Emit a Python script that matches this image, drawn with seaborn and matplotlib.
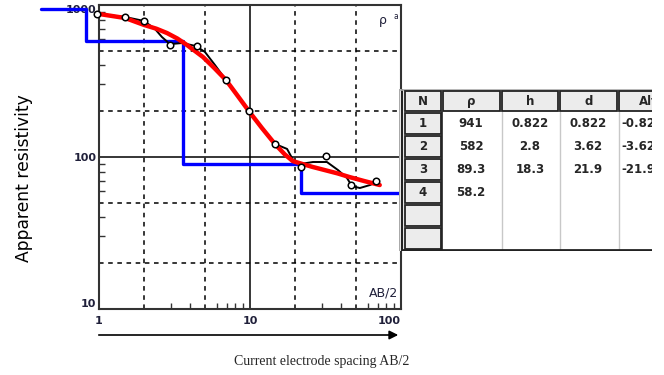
import numpy as np
import pandas as pd
import seaborn as sns
import matplotlib.pyplot as plt
from matplotlib.patches import Rectangle

# measured apparent resistivity points (open circles)
ab2_obs = [0.97, 1.49, 1.99, 2.95, 4.43, 6.90, 9.89, 14.7, 21.8, 31.9, 46.4, 68.3]
rho_obs = [873, 837, 788, 546, 540, 321, 201, 122, 85.9, 102, 65.2, 69.5]

# field curve (black)
ab2_field = [0.97, 1.49, 1.99, 2.35, 2.61, 2.95, 3.55, 4.39, 5.03, 5.86, 6.93, 9.85,
             14.6, 17.6, 19.3, 21.4, 26.1, 32.3, 38.3, 43.9, 47.3, 53.4, 62.3, 69.3]
rho_field = [873, 834, 785, 695, 616, 553, 562, 537, 491, 403, 321, 201,
             122, 113, 95.5, 89.9, 92.7, 92.7, 82.0, 72.7, 64.4, 62.5, 65.4, 68.6]

# calculated curve (red)
ab2_calc = [1.0, 1.49, 1.99, 2.4, 2.82, 3.3, 3.83, 4.88, 5.8, 6.93, 8.3, 9.92, 12.0,
            14.6, 17.0, 19.2, 22.2, 26.0, 31.3, 38.0, 45.6, 57.0, 72.3]
rho_calc = [873, 821, 739, 698, 654, 602, 545, 455, 385, 321, 252, 198, 155,
            122, 104, 94.0, 90.0, 86.0, 82.0, 78.0, 73.8, 69.5, 65.4]

# layered model (blue) and table
layer_n = [1, 2, 3, 4]
layer_rho = [941, 582, 89.3, 58.2]
layer_h = [0.822, 2.8, 18.3]
layer_d = [0.822, 3.62, 21.9]
layer_alt = [-0.822, -3.62, -21.9]

sns.set_theme(style="white")
plt.rcParams["font.family"] = ["DejaVu Sans"]

fig = plt.figure(figsize=(6.64, 3.75), dpi=100)
fig.patch.set_facecolor("white")
ax = fig.add_axes([99 / 664, 1 - 309 / 375, 302 / 664, 304 / 375])
ax.set_xscale("log")
ax.set_yscale("log")
ax.set_xlim(1, 100)
ax.set_ylim(10, 1000)

# grid
for v in [2, 5, 20, 50]:
    ax.axvline(v, color="black", lw=1.1, ls=(0, (3, 3)), zorder=1)
for v in [20, 50, 200, 500]:
    ax.axhline(v, color="black", lw=1.1, ls=(0, (3, 3)), zorder=1)
ax.axvline(10, color="black", lw=1.1, zorder=1)
ax.axhline(100, color="black", lw=1.1, zorder=1)

# model step line, runs outside the frame
step_x = [0.41] + layer_d + [105]
step_y = layer_rho + [layer_rho[-1]]
ax.step(step_x, step_y, where="post", color="#0000ff", lw=2.4, zorder=3, clip_on=False)

field_df = pd.DataFrame({"ab2": ab2_field, "rho": rho_field})
sns.lineplot(data=field_df, x="ab2", y="rho", sort=False, estimator=None,
             color="black", lw=1.4, ax=ax, zorder=4, clip_on=False)
calc_df = pd.DataFrame({"ab2": ab2_calc, "rho": rho_calc})
sns.lineplot(data=calc_df, x="ab2", y="rho", sort=False, estimator=None,
             color="#ff0000", lw=3.2, ax=ax, zorder=5, solid_joinstyle="round")
obs_df = pd.DataFrame({"ab2": ab2_obs, "rho": rho_obs})
sns.scatterplot(data=obs_df, x="ab2", y="rho", marker="o", s=22, facecolor="white",
                edgecolor="black", linewidth=1.1, ax=ax, zorder=6, clip_on=False)

ax.set_xlabel("")
ax.set_ylabel("")
for s in ax.spines.values():
    s.set_color("#333333")
    s.set_linewidth(1.5)

lab_col = "#20203a"
ax.set_xticks([1, 10, 100])
ax.set_xticklabels(["1", "10", "100"])
ax.set_yticks([10, 100, 1000])
ax.set_yticklabels(["10", "100", "1000"])
minor = [3, 4, 6, 7, 8, 9]
ax.set_xticks([m * 10 ** k for k in [0, 1] for m in minor], minor=True)
ax.set_yticks([m * 10 ** k for k in [1, 2] for m in minor], minor=True)
ax.set_xticklabels([], minor=True)
ax.set_yticklabels([], minor=True)
ax.tick_params(which="major", length=0, labelsize=8, labelcolor=lab_col)
ax.tick_params(axis="x", which="major", pad=5)
ax.tick_params(axis="y", which="major", pad=2)
ax.tick_params(which="minor", direction="in", length=4, width=1, color="#333333",
               left=True, bottom=True)
xl = ax.get_xticklabels()
xl[2].set_ha("right")
yl = ax.get_yticklabels()
yl[0].set_va("bottom")
yl[2].set_va("top")
for t in xl + yl:
    t.set_fontweight("semibold")

ax.text(0.94, 0.95, "ρ", transform=ax.transAxes, ha="center", va="center",
        fontsize=9, color=lab_col)
ax.text(0.983, 0.962, "a", transform=ax.transAxes, ha="center", va="center",
        fontsize=5.5, color=lab_col)
ax.text(0.99, 0.053, "AB/2", transform=ax.transAxes, ha="right", va="center",
        fontsize=9, color=lab_col)

fig.text(24 / 664, 1 - 178 / 375, "Apparent resistivity", rotation=90,
         ha="center", va="center", fontsize=12.3, color="black")
fig.text(322 / 664, 1 - 362 / 375, "Current electrode spacing AB/2",
         ha="center", va="center", fontsize=10, family="Liberation Serif")
ax.annotate("", xy=(401 / 664, 1 - 335 / 375), xytext=(96 / 664, 1 - 335 / 375),
            xycoords="figure fraction", textcoords="figure fraction",
            arrowprops=dict(arrowstyle="-|>", color="black", lw=1.2, mutation_scale=13))

# table of layer parameters
tax = fig.add_axes([399 / 664, 1 - 251 / 375, 253 / 664, 162 / 375])
tax.set_xlim(399, 652)
tax.set_ylim(251, 89)
tax.axis("off")
tax.add_patch(Rectangle((399, 89), 260, 162, facecolor="white", edgecolor="none", zorder=0))

cols = [(405, 441), (443, 500), (502, 558), (560, 617), (619, 678)]
rows = [(91, 112)] + [(112 + 23 * i, 135 + 23 * i) for i in range(6)]
head = ["N", "ρ", "h", "d", "Alt"]
cell_kw = dict(facecolor="#ececec", edgecolor="#222222", lw=1.3, zorder=2)
for (x0, x1), name in zip(cols, head):
    tax.add_patch(Rectangle((x0, 91), x1 - x0, 20, **cell_kw))
    tax.text((x0 + x1) / 2, 101.5, name, ha="center", va="center", fontsize=8.5,
             fontweight="bold", clip_on=True, zorder=3)
for i, (y0, y1) in enumerate(rows[1:]):
    tax.add_patch(Rectangle((405, y0 + 1), 36, y1 - y0 - 2, **cell_kw))
    if i < len(layer_n):
        tax.text(423, (y0 + y1) / 2, str(layer_n[i]), ha="center", va="center",
                 fontsize=8.5, fontweight="bold", zorder=3)
for xv in [502, 560, 619]:
    tax.plot([xv, xv], [112, 249], color="#c8c8c8", lw=1, zorder=1)
tax.plot([442.5, 442.5], [112, 250], color="#222222", lw=1.2, zorder=1)
tax.plot([399.5, 399.5], [89, 251], color="#999999", lw=1.2, zorder=1)
tax.plot([402.5, 402.5], [89, 251], color="#222222", lw=1.6, zorder=1)
tax.plot([399, 652], [89.5, 89.5], color="#aaaaaa", lw=1.2, zorder=1)
tax.plot([402, 652], [250, 250], color="#222222", lw=2.0, zorder=1)


def fmt(v):
    return f"{v:g}"


for i, (y0, y1) in enumerate(rows[1:5]):
    yc = (y0 + y1) / 2
    tax.text(471, yc, fmt(layer_rho[i]), ha="center", va="center", fontsize=8.5,
             fontweight="bold", zorder=3)
    if i < len(layer_h):
        tax.text(530, yc, fmt(layer_h[i]), ha="center", va="center", fontsize=8.5,
                 fontweight="bold", zorder=3)
        tax.text(588, yc, fmt(layer_d[i]), ha="center", va="center", fontsize=8.5,
                 fontweight="bold", zorder=3)
        tax.text(621, yc, fmt(layer_alt[i]), ha="left", va="center", fontsize=8.5,
                 fontweight="bold", clip_on=True, zorder=3)

fig.savefig("out.png", dpi=100, facecolor="white")
